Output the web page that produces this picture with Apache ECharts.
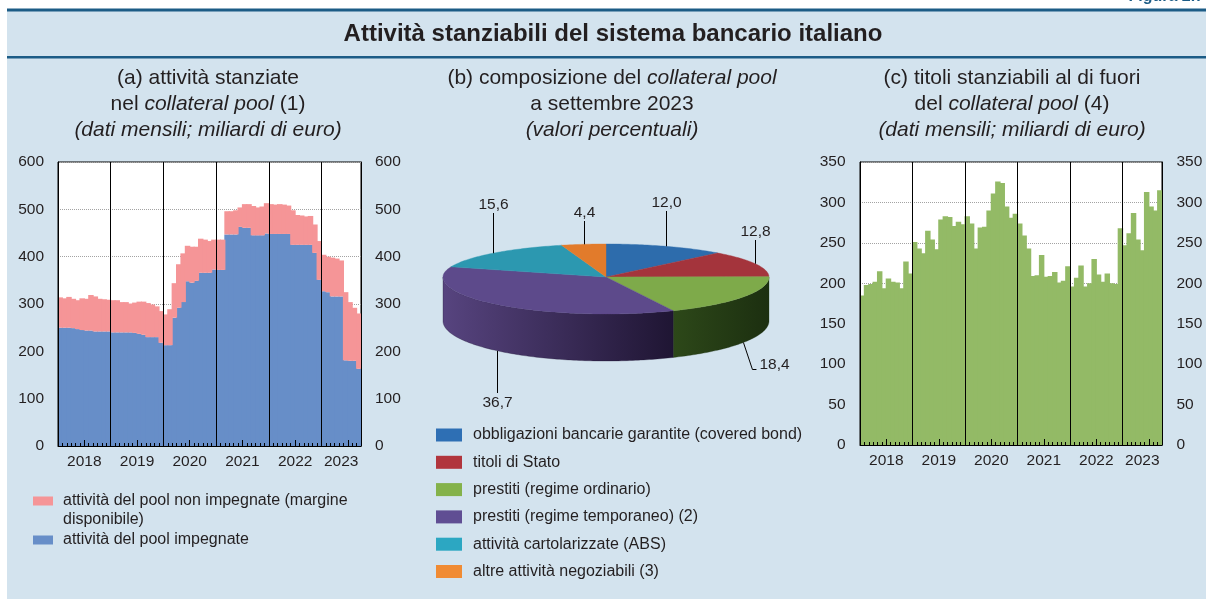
<!DOCTYPE html>
<html>
<head>
<meta charset="utf-8">
<script src="https://cdn.jsdelivr.net/npm/echarts@6.0.0/dist/echarts.min.js"></script>
<style>
html,body{margin:0;padding:0;background:#ffffff;}
#chart{width:1206px;height:599px;}
</style>
</head>
<body>
<div id="chart"></div>
<script>
// ------------------------- DATA -------------------------
const yearLabels = ['2018', '2019', '2020', '2021', '2022', '2023'];
const monthsPerYear = [12, 12, 12, 12, 12, 9];
const monthNames = ['gen', 'feb', 'mar', 'apr', 'mag', 'giu', 'lug', 'ago', 'set', 'ott', 'nov', 'dic'];

// (a) attività stanziate nel collateral pool (miliardi di euro)
const impegnate = [
  250, 250, 250, 249, 247, 245, 244, 244, 242, 242, 242, 242,
  240, 240, 240, 240, 240, 239, 237, 235, 230, 230, 230, 218,
  213, 213, 271, 292, 304, 348, 345, 349, 366, 366, 366, 373,
  372, 372, 447, 447, 447, 463, 461, 461, 445, 445, 445, 449,
  448, 448, 448, 448, 448, 425, 425, 425, 425, 425, 408, 351,
  327, 325, 316, 316, 316, 181, 180, 180, 163
];
const totalePool = [
  314, 312, 315, 311, 308, 312, 311, 319, 316, 311, 310, 309,
  308, 308, 304, 304, 301, 303, 305, 305, 302, 299, 295, 285,
  278, 289, 344, 384, 407, 423, 421, 421, 438, 436, 433, 436,
  436, 436, 496, 496, 498, 504, 511, 511, 507, 504, 506, 513,
  511, 510, 511, 510, 508, 498, 488, 487, 485, 486, 468, 433,
  404, 400, 398, 396, 392, 325, 304, 292, 280
];

// (c) titoli stanziabili al di fuori del collateral pool (miliardi di euro)
const titoliFuori = [
  185, 198, 199, 202, 215, 194, 206, 202, 201, 194, 227, 212,
  251, 243, 237, 265, 254, 242, 279, 283, 282, 271, 276, 273,
  283, 274, 243, 269, 270, 290, 311, 326, 324, 295, 281, 286,
  274, 259, 243, 209, 210, 235, 208, 209, 214, 201, 203, 221,
  196, 207, 222, 196, 200, 230, 211, 202, 212, 200, 199, 268,
  247, 262, 287, 254, 241, 313, 295, 290, 315
];

// (b) composizione del collateral pool a settembre 2023 (valori percentuali)
const pieNames = [
  'obbligazioni bancarie garantite (covered bond)',
  'titoli di Stato',
  'prestiti (regime ordinario)',
  'prestiti (regime temporaneo) (2)',
  'attività cartolarizzate (ABS)',
  'altre attività negoziabili (3)'
];
const pieValues = [12.0, 12.8, 18.4, 36.7, 15.6, 4.4];

const nameFree = 'attività del pool non impegnate (margine disponibile)';
const nameUsed = 'attività del pool impegnate';
const axisA = { min: 0, max: 600, interval: 100 };
const axisC = { min: 0, max: 350, interval: 50 };

// ------------------------- STYLE -------------------------
const FONT = "'Liberation Sans', Arial, Helvetica, sans-serif";
const TXT = '#231f20';
const DARKBLUE = '#1c5c86';
const BG = '#d3e3ee';
const BLUE_BAR = '#678ec8', PINK_BAR = '#f59597', GREEN_BAR = '#93ba66';
const pieTopColors = ['#2d6cac', '#a4343c', '#7eaa4a', '#5d4a8b', '#2c98b0', '#e27b2b'];
const pieSideColors = [['#1f4d80', '#173b63'], ['#7a2229', '#5e1a20'], ['#2d4819', '#1c2f10'],
                       ['#57447f', '#1f1533'], ['#1f6f80', '#175563'], ['#a85a1e', '#8a4816']];
const pieLegendColors = ['#2e6fb4', '#b1353d', '#84b24a', '#604e93', '#2ca7c2', '#f08b33'];
const PIE = { cx: 606, cy: 277, rx: 163, ryBack: 33, ryFront: 37, depth: 44, ryBottomFront: 40 };
const pieLabelLayout = [
  { mode: 'up', y: 203 }, { mode: 'up', y: 232 }, { mode: 'elbow', dx: 9, dy: 27, tail: 4 },
  { mode: 'down', y: 403 }, { mode: 'up', y: 205 }, { mode: 'up', y: 213 }
];

// ------------------------- DERIVED -------------------------
const monthCategories = [];
yearLabels.forEach((y, i) => { for (let m = 0; m < monthsPerYear[i]; m++) monthCategories.push(monthNames[m] + ' ' + y); });
const nMonths = monthCategories.length;
const nonImpegnate = totalePool.map((t, i) => t - impegnate[i]);
const yearCenters = [], midYearTicks = [];
(function () {
  let acc = 0;
  monthsPerYear.forEach(n => { yearCenters.push(acc + n / 2); if (n > 6) midYearTicks.push(acc + 6); acc += n; });
})();
const pieTotal = pieValues.reduce((a, b) => a + b, 0);
const pieStart = [], pieEnd = [];
(function () {
  let c = 0;
  pieValues.forEach(v => { pieStart.push(c / pieTotal * 360); c += v; pieEnd.push(c / pieTotal * 360); });
})();

function ellPt(deg, bottom) {
  const t = deg * Math.PI / 180, s = Math.sin(t), c = Math.cos(t);
  const ry = c >= 0 ? PIE.ryBack : (bottom ? PIE.ryBottomFront : PIE.ryFront);
  return [PIE.cx + PIE.rx * s, PIE.cy + (bottom ? PIE.depth : 0) - ry * c];
}
function arcPts(a1, a2, bottom) {
  const pts = [];
  const n = Math.max(2, Math.ceil((a2 - a1) / 1));
  for (let k = 0; k <= n; k++) pts.push(ellPt(a1 + (a2 - a1) * k / n, bottom));
  return pts;
}
function fmtIt(v) { return v.toFixed(1).replace('.', ','); }

function renderPie(params, api) {
  const i = params.dataIndex;
  const val = api.value(0);
  const a1 = pieStart[i], a2 = pieEnd[i];
  const children = [];
  const s1 = Math.max(a1, 90), s2 = Math.min(a2, 270);
  if (s2 > s1) {
    const top = arcPts(s1, s2, false), bot = arcPts(s1, s2, true).reverse();
    children.push({
      type: 'polygon', shape: { points: top.concat(bot) },
      style: { fill: { type: 'linear', x: 0, y: 0, x2: 1, y2: 0, colorStops: [
        { offset: 0, color: pieSideColors[i][0] }, { offset: 1, color: pieSideColors[i][1] }] },
        stroke: pieSideColors[i][1], lineWidth: 0.3 }
    });
  }
  children.push({
    type: 'polygon', shape: { points: [[PIE.cx, PIE.cy]].concat(arcPts(a1, a2, false)) },
    style: { fill: pieTopColors[i], stroke: pieTopColors[i], lineWidth: 0.4 }
  });
  // label + leader line
  const mid = (a1 + a2) / 2;
  const L = pieLabelLayout[i];
  const txtStyle = { text: fmtIt(val), fill: TXT, fontSize: 15.5, fontFamily: FONT, verticalAlign: 'middle' };
  if (L.mode === 'up') {
    const p = ellPt(mid, false); const x = Math.round(p[0]) + 0.5;
    children.push({ type: 'polyline', shape: { points: [[x, p[1]], [x, L.y + 8]] }, style: { stroke: '#000', lineWidth: 1, fill: null } });
    children.push({ type: 'text', x: x, y: L.y, style: Object.assign({ align: 'center' }, txtStyle) });
  } else if (L.mode === 'down') {
    const p = ellPt(mid, true); const x = Math.round(p[0]) + 0.5;
    children.push({ type: 'polyline', shape: { points: [[x, p[1]], [x, L.y - 10]] }, style: { stroke: '#000', lineWidth: 1, fill: null } });
    children.push({ type: 'text', x: x, y: L.y, style: Object.assign({ align: 'center' }, txtStyle) });
  } else {
    const p = ellPt(mid, true);
    const q = [p[0] + L.dx, p[1] + L.dy], r = [q[0] + L.tail, q[1]];
    children.push({ type: 'polyline', shape: { points: [p, q, r] }, style: { stroke: '#000', lineWidth: 1, fill: null } });
    children.push({ type: 'text', x: r[0] + 3, y: q[1] - 5, style: Object.assign({ align: 'left' }, txtStyle) });
  }
  return { type: 'group', children: children };
}

// ------------------------- AXES -------------------------
const axisLabelStyle = { color: TXT, fontSize: 15.5, fontFamily: FONT };
function xAxesFor(gridIndex) {
  return [
    { type: 'category', gridIndex, data: monthCategories, position: 'bottom', boundaryGap: true, z: 5,
      axisLine: { show: true, lineStyle: { color: '#000', width: 1 } },
      axisTick: { show: true, inside: true, length: 3, interval: 0, lineStyle: { color: '#000', width: 1 } },
      axisLabel: { show: false },
      splitLine: { show: true, interval: (idx) => idx % 12 === 0, lineStyle: { color: '#000', width: 1, type: 'solid' } }
    },
    { type: 'value', gridIndex, min: 0, max: nMonths, position: 'bottom', z: 5,
      axisLine: { show: false }, splitLine: { show: false },
      axisTick: { show: true, inside: true, length: 6, customValues: midYearTicks, lineStyle: { color: '#000', width: 1 } },
      axisLabel: Object.assign({ show: true, customValues: yearCenters, margin: 8,
        formatter: (v) => { const k = yearCenters.indexOf(v); return k >= 0 ? yearLabels[k] : ''; } }, axisLabelStyle)
    }
  ];
}
function yAxesFor(gridIndex, ax, margin) {
  const base = { type: 'value', gridIndex, min: ax.min, max: ax.max, interval: ax.interval };
  return [
    Object.assign({}, base, { position: 'left', z: 5, axisLine: { show: true, lineStyle: { color: '#000' } },
      axisTick: { show: false }, splitLine: { show: false }, axisLabel: Object.assign({ margin: margin }, axisLabelStyle) }),
    Object.assign({}, base, { position: 'right', z: 5, axisLine: { show: true, lineStyle: { color: '#000' } },
      axisTick: { show: false }, splitLine: { show: false }, axisLabel: Object.assign({ margin: margin }, axisLabelStyle) }),
    Object.assign({}, base, { position: 'left', z: 0, axisLine: { show: false }, axisTick: { show: false },
      axisLabel: { show: false }, splitLine: { show: true, lineStyle: { color: '#a3a3a3', width: 1, type: 'dotted' } } })
  ];
}

// ------------------------- GRAPHIC TEXT -------------------------
const richSub = {
  n: { fontSize: 21, fontFamily: FONT, fill: TXT, color: TXT },
  i: { fontSize: 21, fontFamily: FONT, fill: TXT, color: TXT, fontStyle: 'italic' }
};
function sub(x, y, text) {
  return { type: 'text', x: x, y: y, z: 10,
    style: { text: text, rich: richSub, align: 'center', verticalAlign: 'middle', fill: TXT, fontSize: 21, fontFamily: FONT } };
}
const barCommon = { barWidth: '125%', barGap: '-100%', emphasis: { disabled: true }, silent: true };

const option = {
  animation: false,
  backgroundColor: BG,
  textStyle: { fontFamily: FONT, color: TXT },
  grid: [
    { left: 58, top: 162, width: 303, height: 284, show: true, backgroundColor: '#ffffff', borderColor: '#000', borderWidth: 1, containLabel: false, outerBoundsMode: 'none' },
    { left: 860, top: 162, width: 302, height: 283, show: true, backgroundColor: '#ffffff', borderColor: '#000', borderWidth: 1, containLabel: false, outerBoundsMode: 'none' }
  ],
  xAxis: xAxesFor(0).concat(xAxesFor(1)),
  yAxis: yAxesFor(0, axisA, 14).concat(yAxesFor(1, axisC, 14.5)),
  legend: [
    { data: [nameFree, nameUsed], orient: 'vertical', left: 33, top: 492, padding: 0, itemWidth: 20, itemHeight: 9, itemGap: 21,
      icon: 'rect', selectedMode: false,
      formatter: (n) => n === nameFree ? 'attività del pool non impegnate (margine' : n,
      textStyle: { fontSize: 16, color: TXT, fontFamily: FONT, lineHeight: 18, padding: [0, 0, 0, 5] } },
    { data: pieNames, orient: 'vertical', left: 436, top: 426, padding: 0, itemWidth: 26, itemHeight: 13, itemGap: 9.3,
      icon: 'rect', selectedMode: false,
      textStyle: { fontSize: 16, color: TXT, fontFamily: FONT, lineHeight: 18, padding: [0, 0, 0, 6] } }
  ],
  series: [
    Object.assign({ type: 'bar', name: nameUsed, xAxisIndex: 0, yAxisIndex: 0, stack: 'pool', data: impegnate,
      itemStyle: { color: BLUE_BAR } }, barCommon),
    Object.assign({ type: 'bar', name: nameFree, xAxisIndex: 0, yAxisIndex: 0, stack: 'pool', data: nonImpegnate,
      itemStyle: { color: PINK_BAR } }, barCommon),
    Object.assign({ type: 'bar', name: 'titoli stanziabili al di fuori del collateral pool', xAxisIndex: 2, yAxisIndex: 3, data: titoliFuori,
      itemStyle: { color: GREEN_BAR } }, barCommon),
    { type: 'pie', name: 'legenda composizione', radius: [0, 0], center: [PIE.cx, PIE.cy], silent: true,
      label: { show: false }, labelLine: { show: false }, emphasis: { disabled: true },
      data: pieNames.map((n, i) => ({ name: n, value: pieValues[i], itemStyle: { color: pieLegendColors[i] } })) },
    { type: 'custom', name: 'composizione del collateral pool', coordinateSystem: 'none', silent: true, z: 3,
      data: pieValues.map((v, i) => ({ name: pieNames[i], value: [v] })), renderItem: renderPie }
  ],
  graphic: { elements: [
    { type: 'rect', shape: { x: 0, y: 0, width: 1206, height: 9 }, style: { fill: '#ffffff' }, z: 1 },
    { type: 'rect', shape: { x: 0, y: 0, width: 7, height: 599 }, style: { fill: '#ffffff' }, z: 1 },
    { type: 'text', x: 1204, y: -3, z: 2, style: { text: 'Figura 2.7', fill: DARKBLUE, font: "bold 16px " + FONT, align: 'right', verticalAlign: 'middle' } },
    { type: 'rect', shape: { x: 7, y: 8.5, width: 1199, height: 3 }, style: { fill: DARKBLUE }, z: 2 },
    { type: 'rect', shape: { x: 7, y: 56, width: 1199, height: 2.5 }, style: { fill: DARKBLUE }, z: 2 },
    { type: 'text', x: 613, y: 34, z: 10, style: { text: 'Attività stanziabili del sistema bancario italiano', fill: TXT,
      font: "bold 24px " + FONT, align: 'center', verticalAlign: 'middle' } },
    sub(208, 78, '{n|(a) attività stanziate}'),
    sub(208, 104, '{n|nel }{i|collateral pool}{n| (1)}'),
    sub(208, 130, '{i|(dati mensili; miliardi di euro)}'),
    sub(612, 78, '{n|(b) composizione del }{i|collateral pool}'),
    sub(612, 104, '{n|a settembre 2023}'),
    sub(612, 130, '{i|(valori percentuali)}'),
    sub(1012, 78, '{n|(c) titoli stanziabili al di fuori}'),
    sub(1012, 104, '{n|del }{i|collateral pool}{n| (4)}'),
    sub(1012, 130, '{i|(dati mensili; miliardi di euro)}'),
    { type: 'text', x: 63, y: 520, z: 10, style: { text: 'disponibile)', fill: TXT, fontSize: 16, fontFamily: FONT, align: 'left', verticalAlign: 'middle' } }
  ] }
};

const chart = echarts.init(document.getElementById('chart'), null, { renderer: 'canvas' });
chart.setOption(option);
</script>
</body>
</html>
